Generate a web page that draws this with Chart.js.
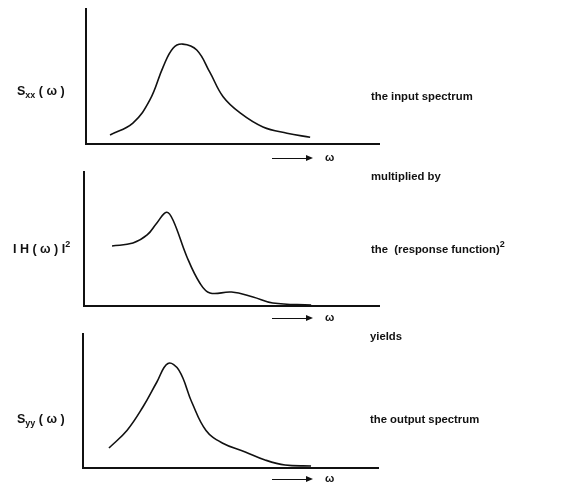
<!DOCTYPE html>
<html lang="en">
<head>
    <meta charset="UTF-8">
    <title>Spectrum through a linear system</title>
    <script src="https://cdn.jsdelivr.net/npm/chart.js"></script>
    <style>
        body { margin: 0; background: #fff; }
        #wrap { position: relative; width: 574px; height: 484px; overflow: hidden;
                font-family: "Liberation Sans", Arial, sans-serif; font-weight: bold; color: #111; }
        canvas { position: absolute; left: 0; }
        .txt { position: absolute; font-size: 11.3px; white-space: nowrap; line-height: 1; }
        .lbl { position: absolute; font-size: 12.5px; white-space: nowrap; line-height: 1; }
        .lbl sub { font-size: 9px; vertical-align: -3px; }
        .lbl sup { font-size: 9px; vertical-align: 6px; }
        .txt sup { font-size: 9px; vertical-align: 6px; }
        .arrow { position: absolute; height: 1px; background: #111; width: 34px; left: 272px; }
        .arrow::after { content: ""; position: absolute; right: -7px; top: -3px;
                        border-left: 7px solid #111; border-top: 3.5px solid transparent; border-bottom: 3.5px solid transparent; }
        .omega { position: absolute; left: 325px; font-size: 11px; }
    </style>
</head>
<body>
<div id="wrap">
    <canvas id="c1" width="574" height="160" style="top:0"></canvas>
    <canvas id="c2" width="574" height="160" style="top:160px"></canvas>
    <canvas id="c3" width="574" height="164" style="top:320px"></canvas>

    <div class="lbl" style="left:17px; top:85px">S<sub>xx</sub> ( ω )</div>
    <div class="lbl" style="left:13px; top:240px">I H ( ω ) I<sup>2</sup></div>
    <div class="lbl" style="left:17px; top:413px">S<sub>yy</sub> ( ω )</div>

    <div class="txt" style="left:371px; top:91px">the input spectrum</div>
    <div class="txt" style="left:371px; top:171px">multiplied by</div>
    <div class="txt" style="left:371px; top:240px">the&nbsp; (response function)<sup>2</sup></div>
    <div class="txt" style="left:370px; top:331px">yields</div>
    <div class="txt" style="left:370px; top:414px">the output spectrum</div>

    <div class="arrow" style="top:158px"></div><div class="omega" style="top:151px">ω</div>
    <div class="arrow" style="top:318px"></div><div class="omega" style="top:311px">ω</div>
    <div class="arrow" style="top:479px"></div><div class="omega" style="top:472px">ω</div>
</div>
<script>
    // input spectrum S_xx(w)
    const inputX = [8.2, 16, 21.8, 26.3, 29.7, 33, 37.8, 42.3, 46.8, 52.6, 60.4, 68.6, 76.5];
    const inputY = [6.7, 15.5, 32.6, 57, 71, 74, 69.6, 53, 35, 23, 12.6, 8, 5];

    // squared response |H(w)|^2
    const responseX = [9.5, 16.6, 21.4, 24.7, 28, 30.2, 34.9, 39.3, 42.7, 50, 57.3, 64, 77];
    const responseY = [44.8, 47, 53, 62, 70, 64, 36.6, 17, 9.7, 10.4, 6.7, 2.2, 0.7];

    // output spectrum S_yy(w)
    const outputX = [8.8, 14.9, 20.3, 25, 28.8, 32.5, 37, 41.7, 47.2, 55, 61.7, 68.5, 77.3];
    const outputY = [14.9, 28, 45.5, 64, 78, 73, 48.5, 28, 18.7, 12, 6, 2.2, 1.5];

    function makePanel(id, xs, ys, pad) {
        const pts = xs.map((x, i) => ({ x: x, y: ys[i] }));
        return new Chart(document.getElementById(id), {
            type: 'line',
            data: {
                datasets: [{
                    data: pts,
                    borderColor: '#111',
                    borderWidth: 1.6,
                    pointRadius: 0,
                    fill: false,
                    tension: 0.4
                }]
            },
            options: {
                responsive: false,
                animation: false,
                layout: { padding: pad },
                plugins: { legend: { display: false }, tooltip: { enabled: false } },
                scales: {
                    x: {
                        type: 'linear', min: 0, max: 100,
                        grid: { display: false, drawTicks: false },
                        ticks: { display: false },
                        border: { display: true, color: '#111', width: 2 }
                    },
                    y: {
                        min: 0, max: 100,
                        grid: { display: false, drawTicks: false },
                        ticks: { display: false },
                        border: { display: true, color: '#111', width: 2 }
                    }
                }
            }
        });
    }

    makePanel('c1', inputX, inputY, { left: 86, right: 195, top: 9, bottom: 16 });
    makePanel('c2', responseX, responseY, { left: 84, right: 195, top: 12, bottom: 14 });
    makePanel('c3', outputX, outputY, { left: 83, right: 196, top: 14, bottom: 16 });
</script>
</body>
</html>
